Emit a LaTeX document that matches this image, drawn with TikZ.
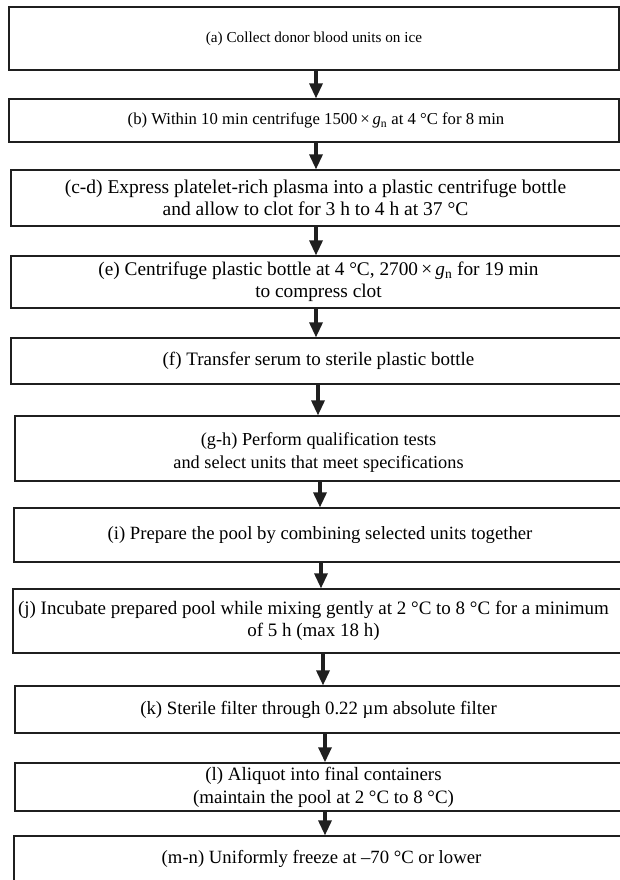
\documentclass[tikz,border=0pt]{standalone}
\usepackage{fontspec}
\setmainfont{Liberation Serif}
\usetikzlibrary{arrows.meta}
\newcommand{\gn}{\textit{g}\textsubscript{n}}
\newcommand{\fs}[2]{\fontsize{#1}{#2}\selectfont}
\begin{document}
\begin{tikzpicture}[x=1pt,y=-1pt,
  box/.style={draw=black!88, line width=1.2pt, inner sep=0pt, align=center},
  arr/.style={line width=3.2pt, draw=black!88, -{Triangle[width=13pt,length=15pt]}}
]
\useasboundingbox (0,0) rectangle (620,880);
\clip (0,0) rectangle (620,880);

\node[box, line width=2pt, font=\fs{15.2}{18}, minimum width=610pt, minimum height=63pt] (a) at (314,38.5)
  {(a) Collect donor blood units on ice};
\node[box, font=\fs{16.7}{20}, minimum width=610pt, minimum height=43pt] (b) at (314,120.5)
  {\hspace*{4pt}(b) Within 10 min centrifuge 1500\,×\,\gn{} at 4~°C for 8 min};
\node[box, font=\fs{19.5}{22}, minimum width=615pt, minimum height=56pt] (c) at (318.5,198)
  {(c-d) Express platelet-rich plasma into a plastic centrifuge bottle\hspace*{6pt}\\and allow to clot for 3 h to 4 h at 37~°C\hspace*{6pt}};
\node[box, font=\fs{19.3}{22}, minimum width=615pt, minimum height=52pt] (e) at (318.5,282)
  {(e) Centrifuge plastic bottle at 4~°C, 2700\,×\,\gn{} for 19 min\\to compress clot};
\node[box, font=\fs{19}{22}, minimum width=615pt, minimum height=46pt] (f) at (318.5,361)
  {(f) Transfer serum to sterile plastic bottle};
\node[box, font=\fs{18.3}{22.5}, minimum width=615pt, minimum height=65pt] (g) at (322.5,448.5)
  {\rule{0pt}{21pt}(g-h) Perform qualification tests\hspace*{8pt}\\and select units that meet specifications\hspace*{8pt}};
\node[box, font=\fs{18.7}{22}, minimum width=616pt, minimum height=54pt] (i) at (322,535)
  {(i) Prepare the pool by combining selected units together\hspace*{4pt}};
\node[box, font=\fs{19}{22}, minimum width=617pt, minimum height=64pt] (j) at (321.5,621)
  {(j) Incubate prepared pool while mixing gently at 2~°C to 8~°C for a minimum\hspace*{16pt}\\of 5 h (max 18 h)\hspace*{16pt}};
\node[box, font=\fs{18.8}{22}, minimum width=617pt, minimum height=47pt] (k) at (323.5,709.5)
  {(k) Sterile filter through 0.22 µm absolute filter\hspace*{10pt}};
\node[box, line width=1.5pt, font=\fs{18.9}{23}, minimum width=617pt, minimum height=48pt] (l) at (323.5,787)
  {(l) Aliquot into final containers\\(maintain the pool at 2~°C to 8~°C)};
\node[box, font=\fs{18.7}{22}, minimum width=618pt, minimum height=46pt] (m) at (323,859)
  {(m-n) Uniformly freeze at –70~°C or lower\hspace*{3pt}};

\coordinate (x1) at (316,0);
\coordinate (x2) at (318,0);
\coordinate (x3) at (320,0);
\coordinate (x4) at (321,0);
\coordinate (x5) at (323,0);
\coordinate (x6) at (325,0);

\draw[arr] (a.south -| x1) -- (b.north -| x1);
\draw[arr] (b.south -| x1) -- (c.north -| x1);
\draw[arr] (c.south -| x1) -- (e.north -| x1);
\draw[arr] (e.south -| x1) -- (f.north -| x1);
\draw[arr] (f.south -| x2) -- (g.north -| x2);
\draw[arr] (g.south -| x3) -- (i.north -| x3);
\draw[arr] (i.south -| x4) -- (j.north -| x4);
\draw[arr] (j.south -| x5) -- (k.north -| x5);
\draw[arr] (k.south -| x6) -- (l.north -| x6);
\draw[arr] (l.south -| x6) -- (m.north -| x6);
\end{tikzpicture}
\end{document}
